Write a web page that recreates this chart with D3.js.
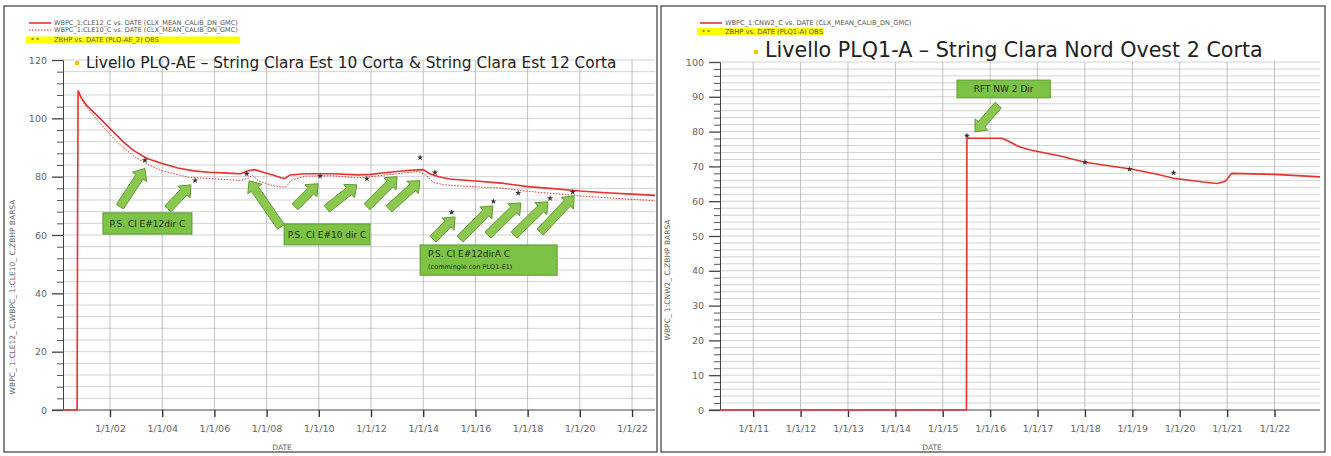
<!DOCTYPE html>
<html><head><meta charset="utf-8">
<script src="https://cdn.jsdelivr.net/npm/d3@7"></script>
<style>body{margin:0;background:#fff}svg{display:block}text{font-family:"DejaVu Sans",sans-serif}</style>
</head><body><svg id="c" width="1331" height="456"></svg>
<script>
// ---------- DATA ----------
// Left chart: PLQ-AE
const leftTickYears = [2002,2004,2006,2008,2010,2012,2014,2016,2018,2020,2022];
const leftTickLabels = ["1/1/02","1/1/04","1/1/06","1/1/08","1/1/10","1/1/12","1/1/14","1/1/16","1/1/18","1/1/20","1/1/22"];
const leftYTicks = [0,20,40,60,80,100,120];
const cle12Years = [2000.2,2000.74,2000.76,2000.78,2000.9,2001.1,2001.5,2002.0,2002.5,2002.9,2003.4,2004.0,2004.6,2005.2,2005.8,2006.5,2007.0,2007.3,2007.55,2007.9,2008.3,2008.55,2008.7,2008.9,2009.5,2010.5,2011.5,2012.0,2012.7,2013.5,2014.0,2014.25,2014.6,2015.0,2016.0,2017.0,2018.0,2019.0,2020.0,2021.0,2022.0,2022.88];
const cle12Values = [0,0,72,109.5,107,104.5,101,96.5,92,89,86.3,84.5,83,82,81.5,81.2,81,82,82.4,81.4,80.4,79.6,79.4,80.6,81,81,80.6,80.8,81.5,82.2,82.4,81,80,79.2,78.5,77.8,76.6,75.9,75.1,74.5,74,73.6];
const cle10Years = [2000.78,2001.0,2001.5,2002.0,2002.5,2003.0,2003.5,2004.0,2005.0,2005.9,2007.0,2007.3,2007.45,2007.7,2008.2,2008.6,2008.75,2008.95,2009.5,2010.5,2011.5,2012.0,2013.0,2013.8,2014.1,2014.4,2014.8,2015.5,2016.5,2017.0,2018.0,2019.0,2020.0,2021.0,2022.0,2022.88];
const cle10Values = [109,105,99.5,94.5,90,86.5,84,82,79.8,79.3,78.7,79.5,80.5,78.5,77,76.4,76.6,78.8,80.2,80.3,79.6,80,81,81.8,80.5,78,77.2,76.8,76.3,76.1,75,74.2,73.4,72.8,72.2,71.8];
const obsLeftYears = [2003.34,2005.26,2007.24,2010.05,2011.84,2013.88,2014.45,2015.09,2016.69,2017.64,2018.86,2019.73];
const obsLeftValues = [85.6,78.7,81,80.2,79.3,86.6,81.4,67.8,71.5,74.4,72.6,74.7];

// Right chart: PLQ1-A
const rightTickYears = [2011,2012,2013,2014,2015,2016,2017,2018,2019,2020,2021,2022];
const rightTickLabels = ["1/1/11","1/1/12","1/1/13","1/1/14","1/1/15","1/1/16","1/1/17","1/1/18","1/1/19","1/1/20","1/1/21","1/1/22"];
const rightYTicks = [0,10,20,30,40,50,60,70,80,90,100];
const cnw2Years = [2010.3,2015.5,2015.51,2016.25,2016.35,2016.6,2016.85,2017.5,2018.0,2019.0,2019.5,2019.87,2020.5,2020.79,2020.96,2021.1,2022.0,2022.96];
const cnw2Values = [0,0,78.1,78.1,77.5,75.7,74.7,72.9,71.2,69.2,67.8,66.6,65.5,65.1,65.7,68.0,67.7,67.0];
const obsRightYears = [2015.51,2018.0,2018.94,2019.87];
const obsRightValues = [78.8,71.2,69.2,68.2];

// Annotations (in data units: [year, value])
const leftArrows = [
 [[2002.38,69.7],[2003.34,82.8]],[[2004.22,69.0],[2005.10,77.2]],[[2008.55,62.8],[2007.33,78.6]],
 [[2009.09,69.7],[2009.97,77.6]],[[2010.31,69.0],[2011.46,77.2]],[[2011.85,69.7],[2013.0,80.0]],
 [[2012.69,69.0],[2013.88,78.6]],[[2014.38,58.6],[2015.22,66.2]],[[2015.41,58.6],[2016.67,70.0]],
 [[2016.48,60.0],[2017.74,71.0]],[[2017.48,60.0],[2018.78,71.4]],[[2018.48,61.0],[2019.78,73.4]]];
const leftBoxes = [
 {x0:2001.73,x1:2005.14,y0:67.6,y1:60.3,lines:["P.S. Cl E#12dir C"]},
 {x0:2008.67,x1:2011.96,y0:63.8,y1:56.6,lines:["P.S. Cl E#10 dir C"]},
 {x0:2013.88,x1:2019.13,y0:56.6,y1:46.2,lines:["P.S. Cl E#12dirA C","(commingle con PLQ1-E1)"]}];
const rightArrows = [[[2016.17,87.6],[2015.68,79.9]]];
const rightBoxes = [{x0:2015.30,x1:2017.27,y0:94.8,y1:89.7,lines:["RFT NW 2 Dir"]}];

// ---------- DRAW ----------
const svg = d3.select("#c");
const RED = "#e8322c";

function fitText(sel, target){
  const n = sel.node(); const fs = parseFloat(sel.attr("font-size"));
  const w = n.getComputedTextLength(); if (w>0) sel.attr("font-size", fs*target/w);
}
function arrowPath(p0,p1,w,h,L){
  const dx=p1[0]-p0[0], dy=p1[1]-p0[1], d=Math.hypot(dx,dy);
  const ux=dx/d, uy=dy/d, nx=-uy, ny=ux;
  const bx=p1[0]-ux*L, by=p1[1]-uy*L;
  const pts=[[p0[0]+nx*w,p0[1]+ny*w],[bx+nx*w,by+ny*w],[bx+nx*h,by+ny*h],p1,[bx-nx*h,by-ny*h],[bx-nx*w,by-ny*w],[p0[0]-nx*w,p0[1]-ny*w]];
  return "M"+pts.map(p=>p.join(",")).join("L")+"Z";
}

function panel(cfg){
  const g = svg.append("g");
  const x = d3.scaleLinear().domain(cfg.xDomain).range(cfg.xRange);
  const y = d3.scaleLinear().domain(cfg.yDomain).range(cfg.yRange);
  g.append("rect").attr("x",cfg.border[0]).attr("y",cfg.border[1]).attr("width",cfg.border[2]).attr("height",cfg.border[3])
    .attr("fill","none").attr("stroke","#3a3a3a").attr("stroke-width",1.2);
  g.append("g").selectAll("line").data(d3.range(cfg.yDomain[0]+cfg.gridStep, cfg.yDomain[1]+0.001, cfg.gridStep)).join("line")
    .attr("x1",cfg.xRange[0]).attr("x2",cfg.xRange[1]).attr("y1",d=>y(d)).attr("y2",d=>y(d))
    .attr("stroke","#d2d2d2").attr("stroke-width",1);
  g.append("g").selectAll("line").data(cfg.tickYears).join("line")
    .attr("x1",d=>x(d)).attr("x2",d=>x(d)).attr("y1",cfg.yRange[0]).attr("y2",cfg.yRange[1])
    .attr("stroke","#c0c0c0").attr("stroke-width",1);
  const ya = d3.axisLeft(y).tickValues(cfg.yTicks).tickSize(11).tickPadding(5).tickFormat(d3.format("d"));
  const yg = g.append("g").attr("transform",`translate(${cfg.xRange[0]},0)`).call(ya);
  yg.select(".domain").attr("stroke","#444");
  yg.selectAll(".tick line").attr("stroke","#444").attr("stroke-width",1.3);
  yg.selectAll("text").attr("fill","#666").attr("font-size",9.5).attr("font-family","Liberation Sans, Arial, sans-serif");
  const yMinor = d3.axisLeft(y).tickValues(d3.range(cfg.yDomain[0],cfg.yDomain[1]+0.001,cfg.minorStep).filter(v=>!cfg.yTicks.includes(v))).tickSize(6).tickFormat("");
  const ym = g.append("g").attr("transform",`translate(${cfg.xRange[0]},0)`).call(yMinor);
  ym.select(".domain").remove(); ym.selectAll(".tick line").attr("stroke","#555");
  const lab = new Map(cfg.tickYears.map((v,i)=>[v,cfg.tickLabels[i]]));
  const xa = d3.axisBottom(x).tickValues(cfg.tickYears).tickSize(7).tickPadding(8).tickFormat(d=>lab.get(d));
  const xg = g.append("g").attr("transform",`translate(0,${cfg.yRange[0]})`).call(xa);
  xg.select(".domain").attr("stroke","#444").attr("d",`M${cfg.xRange[0]-11},0H${cfg.xRange[1]}`);
  xg.selectAll(".tick line").attr("stroke","#333").attr("stroke-width",1.4);
  xg.selectAll("text").attr("fill","#666").attr("font-size",9.5).attr("font-family","Liberation Sans, Arial, sans-serif");
  g.append("text").attr("x",cfg.dateX).attr("y",450).attr("text-anchor","middle").attr("fill","#666")
    .attr("font-size",7.5).attr("font-family","Liberation Sans, Arial, sans-serif").text("DATE");
  g.append("text").attr("transform",`translate(${cfg.ylabX},${cfg.ylabY}) rotate(-90)`).attr("text-anchor","middle")
    .attr("fill","#666").attr("font-size",7.5).attr("font-family","Liberation Sans, Arial, sans-serif").text(cfg.ylabText);
  const line = d3.line().x(d=>x(d[0])).y(d=>y(d[1]));
  cfg.series.forEach(s=>{
    g.append("path").datum(s.years.map((v,i)=>[v,s.values[i]])).attr("d",line).attr("fill","none")
      .attr("stroke",RED).attr("stroke-width",s.dash?1:1.6).attr("stroke-dasharray",s.dash?"1.5,1.5":null);
  });
  const sym = d3.symbol().type(d3.symbolStar).size(12);
  g.append("g").selectAll("path").data(cfg.obsYears.map((v,i)=>[v,cfg.obsValues[i]])).join("path")
    .attr("transform",d=>`translate(${x(d[0])},${y(d[1])})`).attr("d",sym).attr("fill","#333");
  cfg.arrows.forEach(a=>{
    g.append("path").attr("d",arrowPath([x(a[0][0]),y(a[0][1])],[x(a[1][0]),y(a[1][1])],4.2,8.5,10))
      .attr("fill","#8cc850").attr("stroke","#5f9a35").attr("stroke-width",1);
  });
  cfg.boxes.forEach(b=>{
    const bx=x(b.x0), by=y(b.y0), bw=x(b.x1)-x(b.x0), bh=y(b.y1)-y(b.y0);
    g.append("rect").attr("x",bx).attr("y",by).attr("width",bw).attr("height",bh)
      .attr("fill","#7cc244").attr("stroke","#5f9a35").attr("stroke-width",1);
    if (b.lines.length===1){
      g.append("text").attr("x",bx+bw/2).attr("y",by+bh/2+3.5).attr("text-anchor","middle").attr("font-size",9)
        .attr("fill","#1d2a12").attr("font-family","Liberation Sans, Arial, sans-serif").text(b.lines[0]);
    } else {
      g.append("text").attr("x",bx+8).attr("y",by+12).attr("font-size",9).attr("fill","#1d2a12")
        .attr("font-family","Liberation Sans, Arial, sans-serif").text(b.lines[0]);
      g.append("text").attr("x",bx+8).attr("y",by+24).attr("font-size",6.5).attr("fill","#1d2a12")
        .attr("font-family","Liberation Sans, Arial, sans-serif").text(b.lines[1]);
    }
  });
  cfg.legend.forEach((l,i)=>{
    const ly = cfg.legYs[i];
    if (l.type==="obs"){
      g.append("rect").attr("x",cfg.legX-3).attr("y",ly-3.5).attr("width",cfg.legBand).attr("height",7).attr("fill","#ffff00");
      g.append("text").attr("x",cfg.legX+2).attr("y",ly+2).attr("font-size",6).attr("fill","#333").text("*   *");
    } else {
      g.append("line").attr("x1",cfg.legX).attr("x2",cfg.legX+22).attr("y1",ly).attr("y2",ly).attr("stroke",RED)
        .attr("stroke-width",l.type==="dash"?1:1.6).attr("stroke-dasharray",l.type==="dash"?"1.5,1.5":null);
    }
    const t = g.append("text").attr("x",cfg.legX+25).attr("y",ly+2).attr("font-size",5).attr("fill","#555")
      .attr("font-family","Liberation Sans, Arial, sans-serif").text(l.text);
    fitText(t, l.w);
  });
  g.append("rect").attr("x",cfg.titleX-11).attr("y",cfg.titleY-7).attr("width",4).attr("height",4).attr("fill","#f5c400");
  const tt = g.append("text").attr("x",cfg.titleX).attr("y",cfg.titleY).attr("font-size",15).attr("fill","#222").text(cfg.title);
  fitText(tt, cfg.titleW);
  return g;
}

panel({
  border:[4,6,653,446], xDomain:[2000.2,2022.88], xRange:[63,655], yDomain:[0,120], yRange:[410,60],
  gridStep:4, minorStep:4, yTicks:leftYTicks, tickYears:leftTickYears, tickLabels:leftTickLabels,
  dateX:282, ylabX:15, ylabY:297, ylabText:"WBPC_ 1:CLE12_ C,WBPC_ 1:CLE10_ C,ZBHP    BARSA",
  series:[{years:cle12Years,values:cle12Values},{years:cle10Years,values:cle10Values,dash:true}],
  obsYears:obsLeftYears, obsValues:obsLeftValues, arrows:leftArrows, boxes:leftBoxes,
  legX:29, legYs:[23,30,40], legBand:214,
  legend:[{type:"line",text:"WBPC_1:CLE12_C  vs.  DATE (CLX_MEAN_CALIB_DN_GMC)",w:184},
          {type:"dash",text:"WBPC_1:CLE10_C  vs.  DATE (CLX_MEAN_CALIB_DN_GMC)",w:184},
          {type:"obs",text:"ZBHP  vs.  DATE (PLQ-AE_2) OBS",w:105}],
  title:"Livello PLQ-AE – String Clara Est 10 Corta & String Clara Est 12 Corta", titleX:86, titleY:68, titleW:531
});
panel({
  border:[661,6,664,446], xDomain:[2010.3,2022.96], xRange:[720,1320], yDomain:[0,100], yRange:[410,62],
  gridStep:2, minorStep:2, yTicks:rightYTicks, tickYears:rightTickYears, tickLabels:rightTickLabels,
  dateX:932, ylabX:670, ylabY:280, ylabText:"WBPC_ 1:CNW2_ C,ZBHP    BARSA",
  series:[{years:cnw2Years,values:cnw2Values}],
  obsYears:obsRightYears, obsValues:obsRightValues, arrows:rightArrows, boxes:rightBoxes,
  legX:700, legYs:[23,31.5], legBand:127,
  legend:[{type:"line",text:"WBPC_1:CNW2_C  vs.  DATE (CLX_MEAN_CALIB_DN_GMC)",w:187},
          {type:"obs",text:"ZBHP  vs.  DATE (PLQ1-A) OBS",w:98}],
  title:"Livello PLQ1-A – String Clara Nord Ovest 2 Corta", titleX:765, titleY:57, titleW:498
});
</script></body></html>
